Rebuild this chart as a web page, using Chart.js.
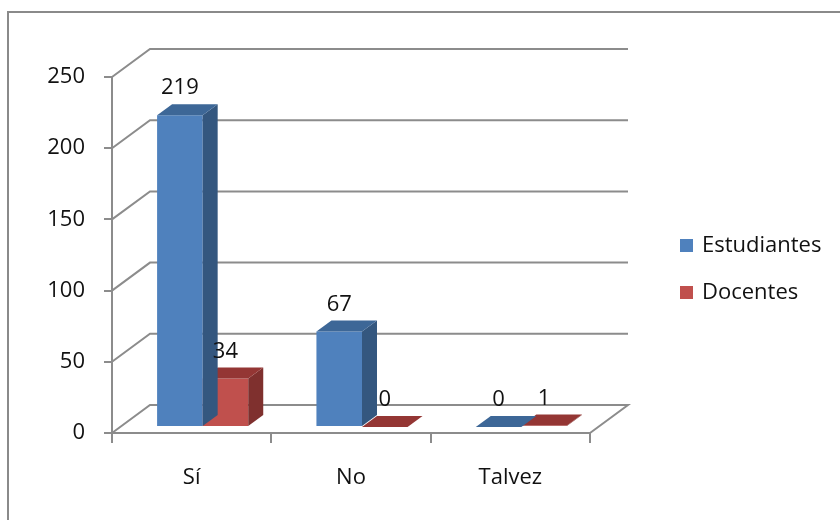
<!DOCTYPE html>
<html>
<head>
<meta charset="utf-8">
<script src="https://cdn.jsdelivr.net/npm/chart.js@4.4.1/dist/chart.umd.min.js"></script>
<style>
  html, body { margin: 0; padding: 0; background: #fff; }
  #wrap { width: 840px; height: 520px; position: relative; }
</style>
</head>
<body>
<div id="wrap"><canvas id="chart"></canvas></div>
<script>
// datos del gráfico
const categories = ['Sí', 'No', 'Talvez'];
const estudiantes = [219, 67, 0];
const docentes = [34, 0, 1];
const yTicks = [0, 50, 100, 150, 200, 250];

const FONT = '"Open Sans", Lato, sans-serif';
const GRID = '#8c8c8c';

// desplazamientos 3D
const DX = 11, DY = -6;    // fila de barras
const WX = 38, WY = -28;   // pared del fondo
const BX = 15, BY = -11;   // grosor de la barra

const pseudo3d = {
    id: 'pseudo3d',
    beforeDatasetsDraw(chart) {
        const ctx = chart.ctx;
        const a = chart.chartArea;
        const ys = chart.scales.y;

        // marco exterior
        ctx.save();
        ctx.strokeStyle = '#8a8a8a';
        ctx.lineWidth = 2;
        ctx.strokeRect(8, 12, chart.width + 20, chart.height + 20);

        // pared y suelo
        ctx.strokeStyle = GRID;
        ctx.lineWidth = 2;
        yTicks.forEach(v => {
            const y = ys.getPixelForValue(v);
            ctx.beginPath();
            ctx.moveTo(a.left, y);
            ctx.lineTo(a.left + WX, y + WY);
            ctx.lineTo(a.right + WX, y + WY);
            if (v === 0) {
                ctx.lineTo(a.right, y);
            }
            ctx.stroke();
        });
        ctx.restore();

        ctx.save();
        ctx.translate(DX, DY);
    },
    afterDatasetDraw(chart, args) {
        const ctx = chart.ctx;
        const ds = chart.data.datasets[args.index];
        args.meta.data.forEach(bar => {
            const l = bar.x - bar.width / 2;
            const r = bar.x + bar.width / 2;
            // lado
            ctx.fillStyle = ds.sideColor;
            ctx.beginPath();
            ctx.moveTo(r, bar.y);
            ctx.lineTo(r + BX, bar.y + BY);
            ctx.lineTo(r + BX, bar.base + BY);
            ctx.lineTo(r, bar.base);
            ctx.closePath();
            ctx.fill();
            // tapa
            ctx.fillStyle = ds.topColor;
            ctx.beginPath();
            ctx.moveTo(l, bar.y);
            ctx.lineTo(l + BX, bar.y + BY);
            ctx.lineTo(r + BX, bar.y + BY);
            ctx.lineTo(r, bar.y);
            ctx.closePath();
            ctx.fill();
        });
    },
    afterDatasetsDraw(chart) {
        const ctx = chart.ctx;
        // etiquetas de valores
        ctx.font = '22px ' + FONT;
        ctx.fillStyle = '#111';
        ctx.textAlign = 'center';
        ctx.textBaseline = 'middle';
        chart.data.datasets.forEach((ds, i) => {
            chart.getDatasetMeta(i).data.forEach((bar, j) => {
                ctx.fillText(String(ds.data[j]), bar.x, bar.y - 27);
            });
        });
        ctx.restore();
    },
    afterDraw(chart) {
        // leyenda
        const ctx = chart.ctx;
        ctx.save();
        ctx.font = '22px ' + FONT;
        ctx.textAlign = 'left';
        ctx.textBaseline = 'middle';
        chart.data.datasets.forEach((ds, i) => {
            const cy = 246 + i * 47;
            ctx.fillStyle = ds.backgroundColor;
            ctx.fillRect(680, cy - 7, 13, 13);
            ctx.fillStyle = '#111';
            ctx.fillText(ds.label, 702, cy);
        });
        ctx.restore();
    }
};

new Chart(document.getElementById('chart'), {
    type: 'bar',
    data: {
        labels: categories,
        datasets: [
            { label: 'Estudiantes', data: estudiantes, backgroundColor: '#4f81bd', sideColor: '#34577f', topColor: '#3d6797', clip: false },
            { label: 'Docentes', data: docentes, backgroundColor: '#c0504d', sideColor: '#7f302e', topColor: '#943634', clip: false }
        ]
    },
    options: {
        responsive: true,
        maintainAspectRatio: false,
        animation: false,
        devicePixelRatio: 1,
        categoryPercentage: 0.572,
        barPercentage: 1,
        layout: { padding: { left: 0, top: 77, right: 250, bottom: 0 } },
        plugins: { legend: { display: false }, tooltip: { enabled: false } },
        scales: {
            x: {
                offset: true,
                grid: { display: true, drawOnChartArea: false, offset: true, tickLength: 10, color: GRID, lineWidth: 2 },
                border: { color: GRID, width: 2 },
                ticks: { font: { family: FONT, size: 22 }, color: '#111', padding: 22 },
                afterFit: s => { s.height = 87; }
            },
            y: {
                min: 0,
                max: 250,
                ticks: { stepSize: 50, font: { family: FONT, size: 22 }, color: '#111', padding: 19 },
                grid: { display: true, drawOnChartArea: false, tickLength: 8, color: GRID, lineWidth: 2 },
                border: { color: GRID, width: 2 },
                afterFit: s => { s.width = 112; }
            }
        }
    },
    plugins: [pseudo3d]
});
</script>
</body>
</html>
